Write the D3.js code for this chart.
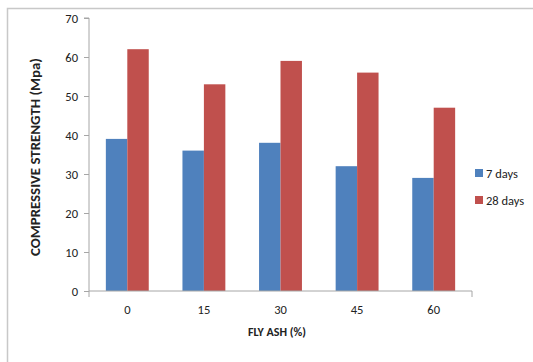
<!DOCTYPE html>
<html>
<head>
<meta charset="utf-8">
<script src="https://cdn.jsdelivr.net/npm/d3@7/dist/d3.min.js"></script>
<style>
  html, body { margin: 0; padding: 0; background: #fff; }
  svg { display: block; }
  text { font-family: Calibri, Carlito, "Open Sans", "Liberation Sans", sans-serif; fill: #222; }
</style>
</head>
<body>
<svg id="chart" width="533" height="362"></svg>
<script>
// Compressive strength by fly ash replacement level
const categories = ["0", "15", "30", "45", "60"];
const seriesNames = ["7 days", "28 days"];
const days7 = [39, 36, 38, 32, 29];
const days28 = [62, 53, 59, 56, 47];
const yTicks = [0, 10, 20, 30, 40, 50, 60, 70];
const colors = ["#4f81bd", "#c0504d"];

const svg = d3.select("#chart");

// chart area frame
svg.append("rect")
  .attr("x", 7.5).attr("y", 8.5)
  .attr("width", 540).attr("height", 370)
  .attr("fill", "none").attr("stroke", "#c8c8c8").attr("stroke-width", 1.5);

const plot = { left: 89, right: 472, top: 18, bottom: 291 };

const x = d3.scaleBand().domain(categories)
  .range([plot.left, plot.right]).paddingInner(0.44).paddingOuter(0.22);
const xs = d3.scaleBand().domain(seriesNames).range([0, x.bandwidth()]);
const y = d3.scaleLinear().domain([0, 70]).range([plot.bottom, plot.top]);

const rows = categories.map((c, i) => ({ c, vals: [days7[i], days28[i]] }));

const groups = svg.append("g").selectAll("g").data(rows).join("g")
  .attr("transform", d => `translate(${x(d.c)},0)`);
groups.selectAll("rect").data(d => d.vals.map((v, k) => ({ v, k })))
  .join("rect")
  .attr("x", d => xs(seriesNames[d.k]))
  .attr("y", d => y(d.v))
  .attr("width", xs.bandwidth())
  .attr("height", d => y(0) - y(d.v))
  .attr("fill", d => colors[d.k]);

// y axis
const yAxis = svg.append("g").attr("transform", `translate(${plot.left},0)`)
  .call(d3.axisLeft(y).tickValues(yTicks).tickSize(5).tickPadding(6));
yAxis.select(".domain").attr("stroke", "#a6a6a6").attr("d", `M-5,${plot.top}H0V${plot.bottom}`);
yAxis.selectAll(".tick line").attr("stroke", "#a6a6a6");
yAxis.selectAll("text").attr("font-size", 12.5).attr("fill", "#1a1a1a");

// x axis
const xAxis = svg.append("g").attr("transform", `translate(0,${plot.bottom})`)
  .call(d3.axisBottom(x).tickSize(0).tickPadding(14));
xAxis.select(".domain").attr("stroke", "#a6a6a6")
  .attr("d", `M${plot.left},6V0H${plot.right}V6`);
xAxis.selectAll("text").attr("font-size", 12.5).attr("fill", "#1a1a1a");

// axis titles
svg.append("text")
  .attr("x", 277).attr("y", 336)
  .attr("text-anchor", "middle").attr("font-size", 12.5).attr("font-weight", "bold")
  .attr("textLength", 58).attr("lengthAdjust", "spacingAndGlyphs")
  .text("FLY ASH (%)");
svg.append("text")
  .attr("transform", `translate(40,157) rotate(-90)`)
  .attr("text-anchor", "middle").attr("font-size", 13.5).attr("font-weight", "bold")
  .attr("textLength", 198).attr("lengthAdjust", "spacingAndGlyphs")
  .text("COMPRESSIVE STRENGTH (Mpa)");

// legend
const legend = svg.append("g").selectAll("g").data(seriesNames).join("g")
  .attr("transform", (d, i) => `translate(475,${169 + i * 27})`);
legend.append("rect").attr("width", 8).attr("height", 8)
  .attr("fill", (d, i) => colors[i]);
legend.append("text").attr("x", 11).attr("y", 8.5)
  .attr("font-size", 12.5).text(d => d);
</script>
</body>
</html>
